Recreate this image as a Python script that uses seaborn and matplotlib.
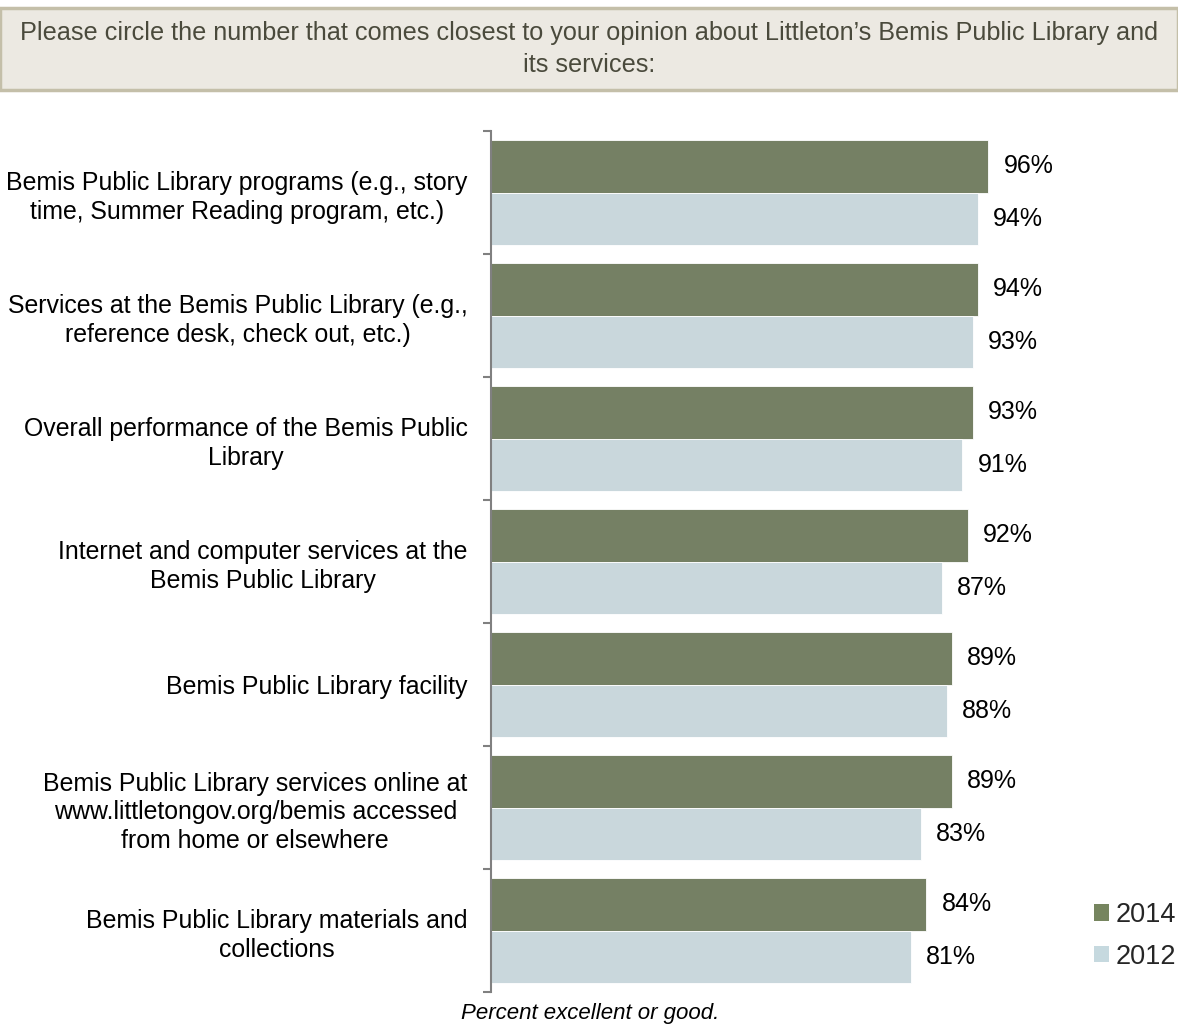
import matplotlib
matplotlib.use("Agg")
import matplotlib.pyplot as plt
import seaborn as sns
import pandas as pd
from matplotlib.patches import Rectangle, Patch
from matplotlib.ticker import FixedLocator

categories = [
    "Bemis Public Library programs (e.g., story\ntime, Summer Reading program, etc.)",
    "Services at the Bemis Public Library (e.g.,\nreference desk, check out, etc.)",
    "Overall performance of the Bemis Public\nLibrary",
    "Internet and computer services at the\nBemis Public Library",
    "Bemis Public Library facility",
    "Bemis Public Library services online at\nwww.littletongov.org/bemis accessed\nfrom home or elsewhere",
    "Bemis Public Library materials and\ncollections",
]
values_2014 = [96, 94, 93, 92, 89, 89, 84]
values_2012 = [94, 93, 91, 87, 88, 83, 81]
years = ["2014", "2012"]
colors = ["#76855F", "#C6D9DF"]

title_text = ("Please circle the number that comes closest to your opinion about Littleton\u2019s Bemis Public Library and\n"
              "its services:")
footnote = "Percent excellent or good."

df = pd.DataFrame({
    "category": categories * 2,
    "value": values_2014 + values_2012,
    "year": [years[0]] * len(categories) + [years[1]] * len(categories),
})

sns.set_theme(style="white")
plt.rcParams["font.family"] = ["Liberation Sans", "DejaVu Sans"]

fig = plt.figure(figsize=(11.78, 10.25), dpi=100)
ax = fig.add_axes([491 / 1178, 1 - 992 / 1025, (1080 - 491) / 1178, (992 - 131) / 1025])

sns.barplot(data=df, y="category", x="value", hue="year", hue_order=years,
            palette=colors, orient="h", width=0.86, ax=ax,
            edgecolor="white", linewidth=0.6, legend=False)

ax.set_xlim(0, 589 / 5.18)
ax.set_ylim(len(categories) - 0.5, -0.5)
for cont in ax.containers:
    ax.bar_label(cont, labels=[f"{v:.0f}%" for v in cont.datavalues],
                 padding=11, fontsize=18, color="black")

for s in ["top", "right", "bottom"]:
    ax.spines[s].set_visible(False)
ax.spines["left"].set_color("#808080")
ax.spines["left"].set_linewidth(1.5)
ax.set_xticks([])
ax.set_xlabel("")
ax.set_ylabel("")
ax.yaxis.set_minor_locator(FixedLocator([i - 0.5 for i in range(len(categories) + 1)]))
ax.tick_params(axis="y", which="major", length=0, pad=17, labelsize=17.9, labelcolor="black")
ax.tick_params(axis="y", which="minor", length=6, width=1.5, color="#808080", left=True)
for lbl in ax.get_yticklabels():
    lbl.set_multialignment("center")
    lbl.set_linespacing(1.25)

handles = [Patch(facecolor=c, edgecolor="none") for c in colors]
fig.legend(handles, years, loc="center left", bbox_to_anchor=(1094 / 1178, 1 - 936 / 1025),
           frameon=False, fontsize=19.5, handlelength=0.55, handleheight=0.55,
           handletextpad=0.25, labelspacing=0.58, borderpad=0, borderaxespad=0)

fig.patches.append(Rectangle((0, 1 - 90 / 1025), 1, 82 / 1025, transform=fig.transFigure,
                             facecolor="#ECE9E2", edgecolor="#C4BFA9", linewidth=2.5, zorder=0))
fig.text(0.5, 1 - 49 / 1025, title_text, ha="center", va="center", fontsize=18.2,
         color="#4A4A3C", linespacing=1.45)
fig.text(590 / 1178, 1 - 1013 / 1025, footnote, ha="center", va="center", fontsize=16,
         style="italic", color="black")

fig.savefig("out.png", dpi=100)
